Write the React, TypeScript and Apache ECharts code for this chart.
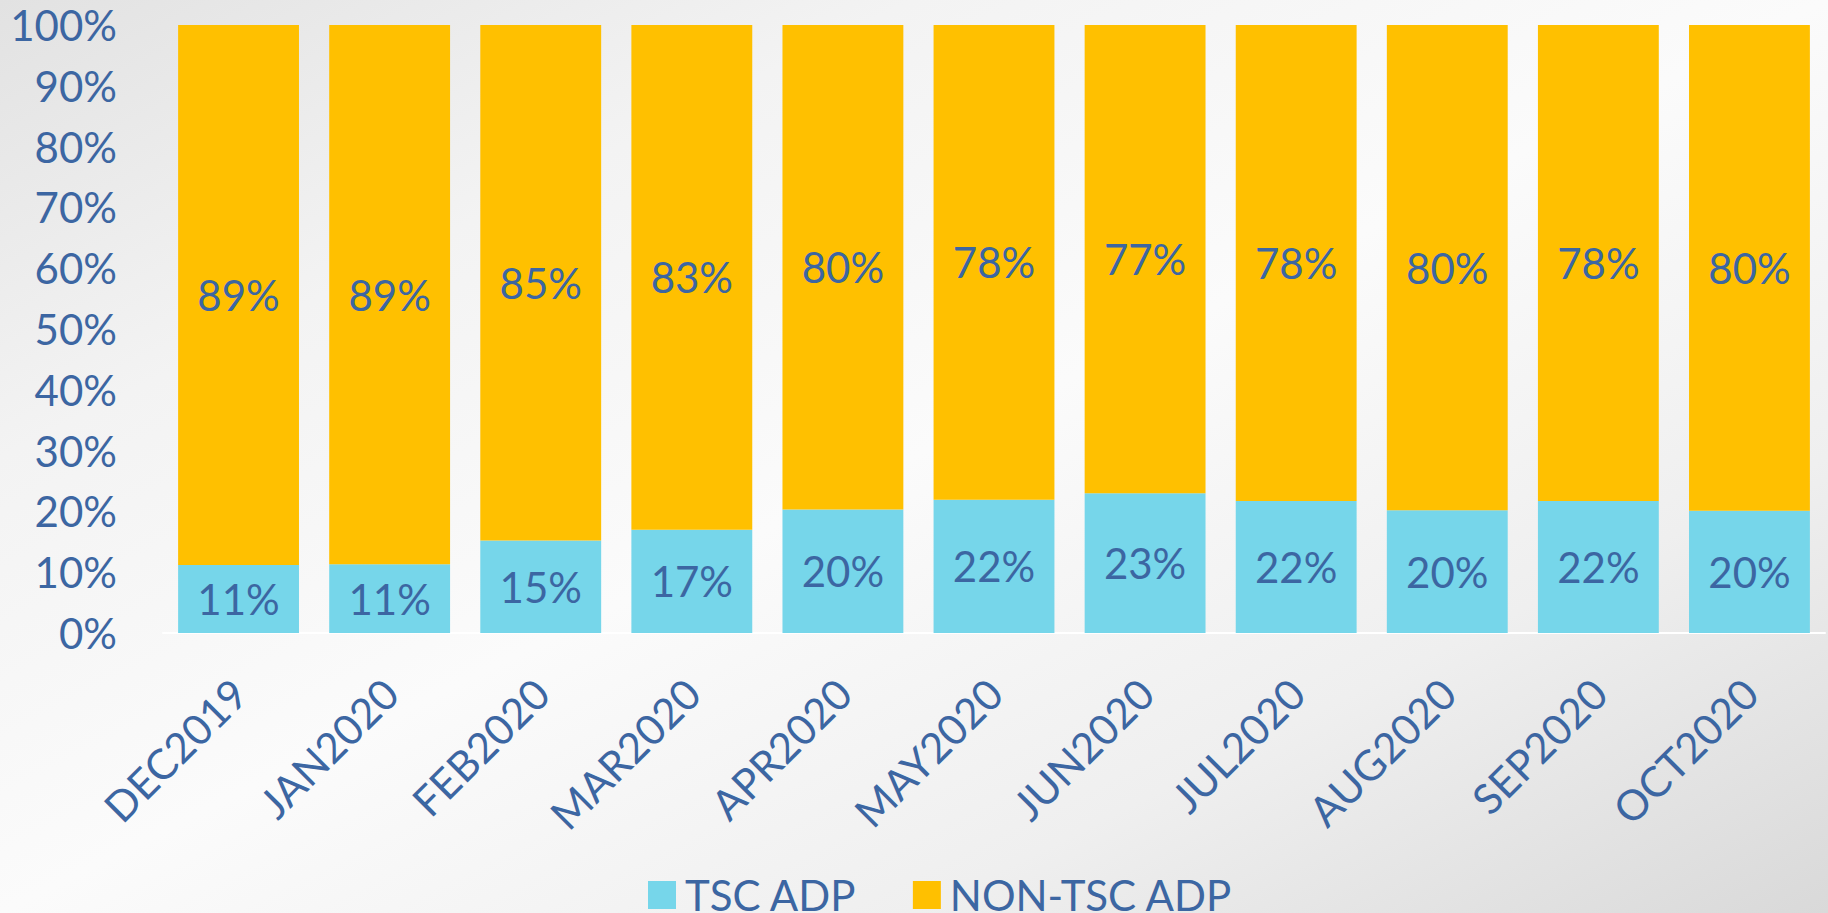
import React, { useEffect, useRef } from "react";
import * as echarts from "echarts";

const categories = ["DEC2019", "JAN2020", "FEB2020", "MAR2020", "APR2020", "MAY2020", "JUN2020", "JUL2020", "AUG2020", "SEP2020", "OCT2020"];
const tscAdp = [11.2, 11.3, 15.2, 17.0, 20.3, 21.9, 23.0, 21.7, 20.2, 21.7, 20.1];
const nonTscAdp = [88.8, 88.7, 84.8, 83.0, 79.7, 78.1, 77.0, 78.3, 79.8, 78.3, 79.9];
const seriesNames = ["TSC ADP", "NON-TSC ADP"];
const yTicks = [0, 10, 20, 30, 40, 50, 60, 70, 80, 90, 100];

const FONT = "Lato, 'Noto Sans', sans-serif";
const TEXT = "#3C66A2";

export default function App() {
  const ref = useRef<HTMLDivElement>(null);
  useEffect(() => {
    if (!ref.current) return;
    const chart = echarts.init(ref.current, undefined, { renderer: "svg" });
    const label = {
      show: true,
      position: "inside",
      color: TEXT,
      fontFamily: FONT,
      fontSize: 42,
      formatter: (p: any) => Math.round(p.value) + "%",
    };
    chart.setOption({
      animation: false,
      backgroundColor: "transparent",
      textStyle: { fontFamily: FONT },
      grid: {
        left: 163,
        right: 3,
        top: 25,
        bottom: 280,
        containLabel: false,
        outerBoundsMode: "none",
      },
      legend: {
        data: seriesNames,
        left: 648,
        top: 874,
        padding: 0,
        itemWidth: 28,
        itemHeight: 28,
        itemGap: 56,
        icon: "rect",
        textStyle: { color: TEXT, fontFamily: FONT, fontSize: 42, padding: [0, 0, 0, 4] },
      },
      xAxis: {
        type: "category",
        data: categories,
        axisLine: { show: true, lineStyle: { color: "#ffffff", width: 2 } },
        axisTick: { show: false },
        axisLabel: {
          rotate: 45,
          interval: 0,
          margin: 24,
          align: "right",
          verticalAlign: "top",
          padding: [0, 20, 0, 0],
          color: TEXT,
          fontFamily: FONT,
          fontSize: 42,
        },
      },
      yAxis: {
        type: "value",
        min: yTicks[0],
        max: yTicks[yTicks.length - 1],
        interval: 10,
        splitLine: { show: false },
        axisLine: { show: false },
        axisTick: { show: false },
        axisLabel: {
          margin: 46,
          color: TEXT,
          fontFamily: FONT,
          fontSize: 42,
          formatter: (v: number) => v + "%",
        },
      },
      series: [
        {
          name: seriesNames[0],
          type: "bar",
          stack: "total",
          data: tscAdp,
          barCategoryGap: "20%",
          itemStyle: { color: "#76D6EA" },
          label,
        },
        {
          name: seriesNames[1],
          type: "bar",
          stack: "total",
          data: nonTscAdp,
          barCategoryGap: "20%",
          itemStyle: { color: "#FFC000" },
          label,
        },
      ],
    });
    return () => chart.dispose();
  }, []);
  return (
    <div
      style={{
        position: "fixed",
        left: 0,
        top: 0,
        width: 1828,
        height: 913,
        background:
          "linear-gradient(to bottom right, #e2e2e2 0%, #f3f3f3 25%, #fbfbfb 50%, #efefef 75%, #d9d9d9 100%)",
      }}
    >
      <div ref={ref} style={{ width: 1828, height: 913 }} />
    </div>
  );
}
